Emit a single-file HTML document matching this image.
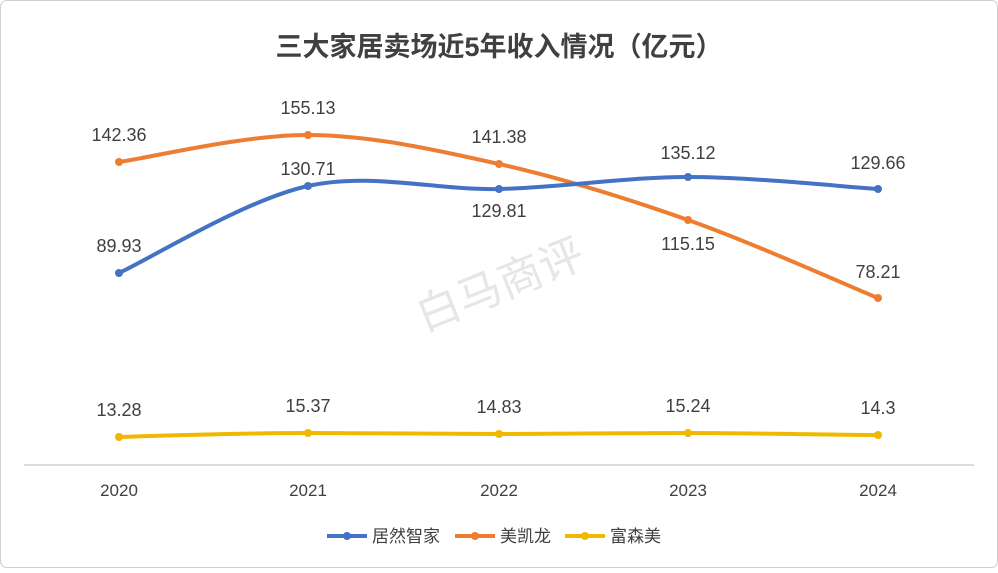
<!DOCTYPE html>
<html><head><meta charset="utf-8"><style>
body{margin:0;background:#fff}
svg text{font-family:"Liberation Sans","Noto Sans CJK SC",sans-serif}
</style></head><body>
<svg width="998" height="568" viewBox="0 0 998 568" xmlns="http://www.w3.org/2000/svg">
<rect x="0.5" y="0.5" width="997" height="567" rx="6" fill="#fff" stroke="#d0d0d0"/>
<text x="499" y="56" text-anchor="middle" font-size="27" font-weight="bold" fill="#404040">三大家居卖场近5年收入情况（亿元）</text>
<text x="500" y="300" text-anchor="middle" font-size="44" fill="#e6e6e6" transform="rotate(-22 500 285)">白马商评</text>
<line x1="24" y1="465" x2="974" y2="465" stroke="#d0d0d0" stroke-width="1.5"/>
<g font-size="17" fill="#404040" text-anchor="middle">
<text x="119" y="496">2020</text><text x="308" y="496">2021</text><text x="499" y="496">2022</text><text x="688" y="496">2023</text><text x="878" y="496">2024</text>
</g>
<path d="M119,162 C150.5,157.5 244.7,134.7 308,135 C371.3,135.3 435.7,149.8 499,164 C562.3,178.2 624.8,197.7 688,220 C751.2,242.3 846.3,285 878,298" fill="none" stroke="#ed7d31" stroke-width="4" stroke-linecap="round"/>
<path d="M119,273 C150.5,258.5 244.7,200 308,186 C371.3,172 435.7,190.5 499,189 C562.3,187.5 624.8,177 688,177 C751.2,177 846.3,187 878,189" fill="none" stroke="#4472c4" stroke-width="4" stroke-linecap="round"/>
<path d="M119,437 C150,436 250,433 308,433 C370,433 440,434 499,434 C560,434 625,433 688,433 C750,433 846,435 878,435" fill="none" stroke="#f0b800" stroke-width="4" stroke-linecap="round"/>
<g fill="#ed7d31"><circle cx="119" cy="162" r="4"/><circle cx="308" cy="135" r="4"/><circle cx="499" cy="164" r="4"/><circle cx="688" cy="220" r="4"/><circle cx="878" cy="298" r="4"/></g>
<g fill="#4472c4"><circle cx="119" cy="273" r="4"/><circle cx="308" cy="186" r="4"/><circle cx="499" cy="189" r="4"/><circle cx="688" cy="177" r="4"/><circle cx="878" cy="189" r="4"/></g>
<g fill="#f0b800"><circle cx="119" cy="437" r="4"/><circle cx="308" cy="433" r="4"/><circle cx="499" cy="434" r="4"/><circle cx="688" cy="433" r="4"/><circle cx="878" cy="435" r="4"/></g>
<g font-size="18" fill="#404040" text-anchor="middle">
<text x="119" y="141">142.36</text><text x="308" y="114">155.13</text><text x="499" y="143">141.38</text><text x="688" y="250">115.15</text><text x="878" y="278">78.21</text>
<text x="119" y="252">89.93</text><text x="308" y="175">130.71</text><text x="499" y="217">129.81</text><text x="688" y="159">135.12</text><text x="878" y="169">129.66</text>
<text x="119" y="416">13.28</text><text x="308" y="412">15.37</text><text x="499" y="413">14.83</text><text x="688" y="412">15.24</text><text x="878" y="414">14.3</text>
</g>
<g font-size="17" fill="#404040">
<line x1="327" y1="536" x2="367" y2="536" stroke="#4472c4" stroke-width="4"/><circle cx="347" cy="536" r="4" fill="#4472c4"/><text x="372" y="542">居然智家</text>
<line x1="455" y1="536" x2="495" y2="536" stroke="#ed7d31" stroke-width="4"/><circle cx="475" cy="536" r="4" fill="#ed7d31"/><text x="500" y="542">美凯龙</text>
<line x1="565" y1="536" x2="605" y2="536" stroke="#f0b800" stroke-width="4"/><circle cx="585" cy="536" r="4" fill="#f0b800"/><text x="610" y="542">富森美</text>
</g>
</svg>
</body></html>
